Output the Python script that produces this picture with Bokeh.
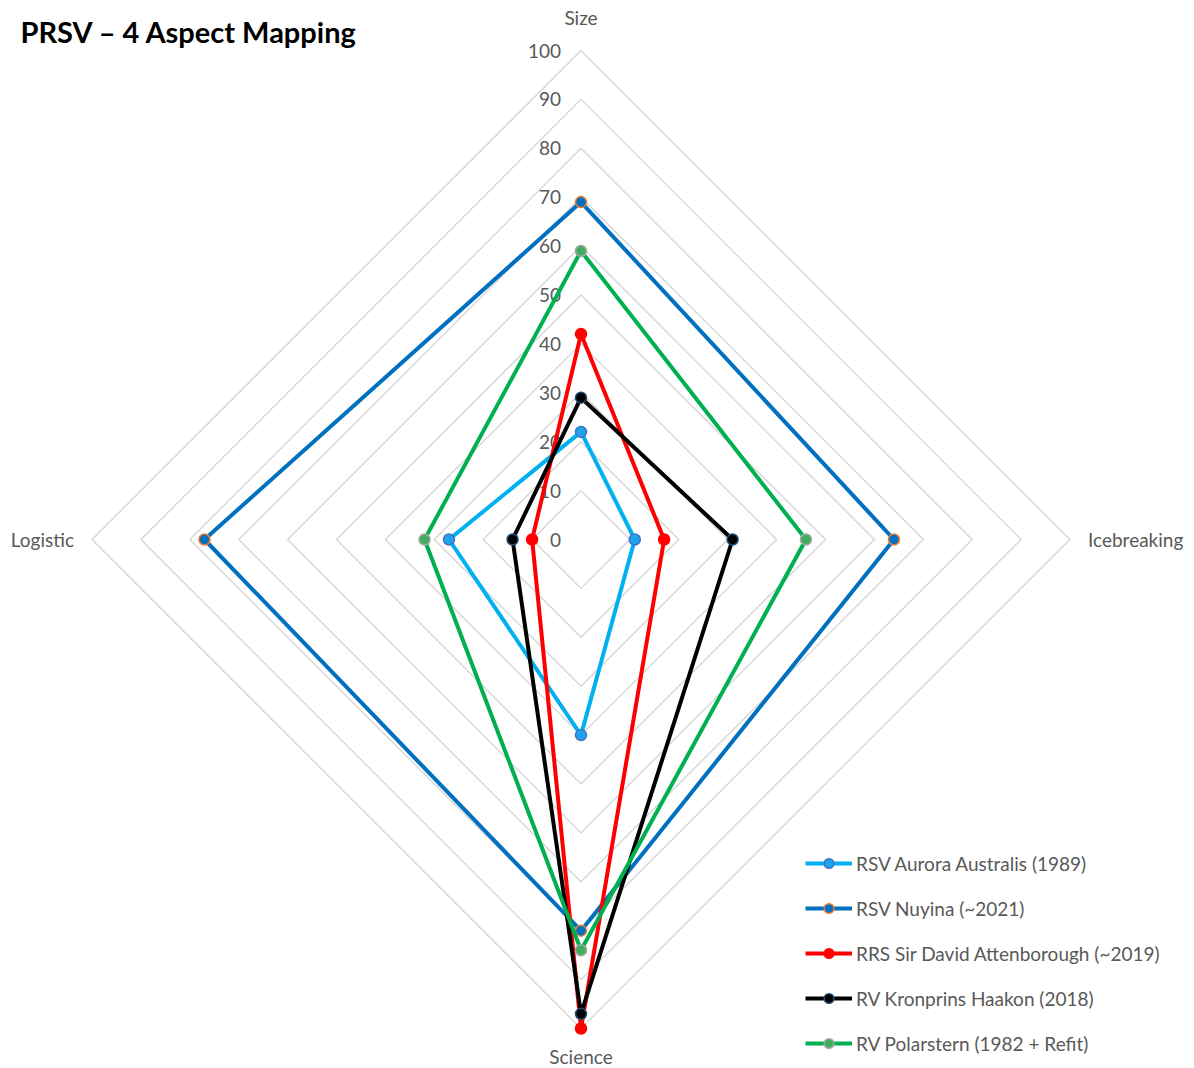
import numpy as np
from bokeh.plotting import figure
from bokeh.models import ColumnDataSource, Legend, LegendItem, Label, Range1d
from bokeh.embed import file_html
from bokeh.resources import INLINE
from bokeh.core.properties import value

# ---------------- data ----------------
title_text = "PRSV – 4 Aspect Mapping"
aspects = ["Size", "Icebreaking", "Science", "Logistic"]
tick_values = [0, 10, 20, 30, 40, 50, 60, 70, 80, 90, 100]

series_names = [
    "RSV Aurora Australis (1989)",
    "RSV Nuyina (~2021)",
    "RRS Sir David Attenborough (~2019)",
    "RV Kronprins Haakon (2018)",
    "RV Polarstern (1982 + Refit)",
]
aurora_australis = [22, 11, 40, 27]
nuyina = [69, 64, 80, 77]
attenborough = [42, 17, 100, 10]
kronprins_haakon = [29, 31, 97, 14]
polarstern = [59, 46, 84, 32]
series_values = [aurora_australis, nuyina, attenborough, kronprins_haakon, polarstern]

# ---------------- styling ----------------
line_colors = ["#00B0F0", "#0070C0", "#FF0000", "#000000", "#00B050"]
marker_fill = ["#1FA3EC", "#0070C0", "#FF0000", "#000000", "#3FAE5E"]
marker_line = ["#4472C4", "#ED7D31", "#FF0000", "#1F4E79", "#A5A5A5"]
angles_deg = [90, 0, -90, 180]  # Size top, Icebreaking right, Science bottom, Logistic left

W, H = 1194, 1068
CX, CY = 580.5, 539.0   # centre in pixels (from top-left)
SCALE = 4.89            # pixels per value unit
FONT = "Lato"
GREY = "#595959"

ang = np.radians(angles_deg)
cosv, sinv = np.cos(ang), np.sin(ang)

p = figure(width=W, height=H, min_border=0, toolbar_location=None,
           output_backend="svg", x_axis_type=None, y_axis_type=None,
           x_range=Range1d(-CX / SCALE, (W - CX) / SCALE),
           y_range=Range1d(-(H - CY) / SCALE, CY / SCALE))
p.grid.visible = False
p.outline_line_color = None
p.background_fill_color = "white"
p.border_fill_color = "white"

# grid diamonds
gx, gy = [], []
for t in tick_values[1:]:
    gx.append(list(t * cosv) + [t * cosv[0]])
    gy.append(list(t * sinv) + [t * sinv[0]])
p.multi_line(xs=gx, ys=gy, line_color="#D4D4D4", line_width=1.3)

# tick labels
p.text(x=[0] * len(tick_values), y=tick_values, text=[str(t) for t in tick_values],
       text_align="right", text_baseline="middle", x_offset=-20,
       text_font=value(FONT), text_font_size="19px", text_color=GREY)

# axis labels
lab_cfg = [
    dict(align="center", xo=0, yo=-33),
    dict(align="left", xo=18, yo=0),
    dict(align="center", xo=0, yo=28),
    dict(align="right", xo=-18, yo=0),
]
for name, c, s, cfg in zip(aspects, cosv, sinv, lab_cfg):
    p.text(x=[100 * c], y=[100 * s], text=[name], text_align=cfg["align"],
           text_baseline="middle", x_offset=cfg["xo"], y_offset=cfg["yo"],
           text_font=value(FONT), text_font_size="19px", text_color=GREY)

# series
items = []
for name, vals, lc, mf, ml in zip(series_names, series_values, line_colors, marker_fill, marker_line):
    v = np.array(vals, dtype=float)
    xs = v * cosv
    ys = v * sinv
    src = ColumnDataSource(dict(x=list(xs) + [xs[0]], y=list(ys) + [ys[0]]))
    r_line = p.line("x", "y", source=src, line_color=lc, line_width=4, line_join="round")
    r_pts = p.scatter(x=list(xs), y=list(ys), size=11, fill_color=mf, line_color=ml, line_width=1.5)
    items.append(LegendItem(label=name, renderers=[r_line, r_pts]))

legend = Legend(items=items, location=(805, 13), orientation="vertical",
                glyph_width=47, glyph_height=24, label_height=24, spacing=21,
                padding=0, margin=0, label_standoff=4,
                label_text_font=FONT, label_text_font_size="19px", label_text_color=GREY,
                background_fill_alpha=0, border_line_alpha=0)
p.add_layout(legend)

title = Label(x=20, y=H - 31, x_units="screen", y_units="screen", text=title_text,
              text_baseline="middle", text_font=FONT, text_font_style="bold",
              text_font_size="29px", text_color="#000000")
p.add_layout(title)

open("out.html", "w").write(file_html(p, INLINE))
